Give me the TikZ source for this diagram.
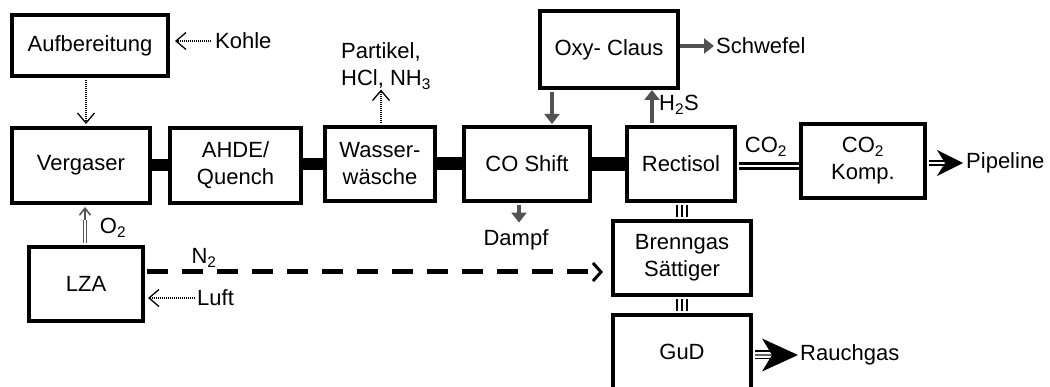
\documentclass[tikz,border=0pt]{standalone}
\usepackage{fontspec}
\setmainfont{Liberation Sans}
\usetikzlibrary{arrows.meta,calc}
\colorlet{arrgray}{black!68}
\begin{document}
\begin{tikzpicture}[x=1pt,y=-1pt,
  every node/.style={font=\fontsize{22}{27}\selectfont, inner sep=0pt},
  box/.style={draw, line width=4pt, align=center, minimum height=74pt, fill=white},
  bar/.style={line width=12pt},
  dotarr/.style={line width=1.1pt, dash pattern=on 1pt off 1pt,
    -{Straight Barb[length=10pt,width=17pt,line width=1.3pt]}},
  grayarr/.style={draw=arrgray, line width=4pt, -{Triangle[length=10pt,width=15pt]}},
  dbl/.style={line width=2.5pt, double, double distance=2.5pt},
  triple/.style={line width=2.2pt, preaction={draw, line width=12pt}, preaction={draw=white, line width=7.5pt}},
  thintriple/.style={draw=black!60, line width=1.6pt, preaction={draw=black, line width=9pt}, preaction={draw=white, line width=5.5pt}},
  bighead/.style={fill=black, line join=miter},
]
\useasboundingbox (0,0) rectangle (1050,387);
\clip (0,0) rectangle (1050,387);

% boxes
\node[box, minimum width=156pt, minimum height=61pt] (aufb) at (90,45.5) {Aufbereitung};
\node[box, minimum width=138pt, minimum height=75pt] (verg) at (81,165.5) {Vergaser};
\node[box, minimum width=131pt, minimum height=75pt] (ahde) at (235.5,165.5) {AHDE/\\Quench};
\node[box, minimum width=110pt] (wasser) at (380,164) {Wasser-\\wäsche};
\node[box, minimum width=126pt] (shift) at (527,164) {CO Shift};
\node[box, minimum width=138pt, minimum height=77pt] (oxy) at (609,49.5) {Oxy- Claus};
\node[box, minimum width=108pt] (rect) at (681,164) {Rectisol};
\node[box, minimum width=124pt] (komp) at (863,161) {CO\textsubscript{2}\\Komp.};
\node[box, minimum width=138pt] (brenn) at (682,258) {Brenngas\\Sättiger};
\node[box, minimum width=138pt] (gud) at (682,352) {GuD};
\node[box, minimum width=114pt] (lza) at (86,284) {LZA};

% labels
\node[anchor=west] (kohle) at (215,41) {Kohle};
\node[anchor=west, align=left] (part) at (341,66) {Partikel,\\HCl, NH\textsubscript{3}};
\node[anchor=west] (schw) at (716,46) {Schwefel};
\node (dampf) at (516,240) {Dampf};
\node[anchor=west] (h2s) at (659,105) {H\textsubscript{2}S};
\node (co2l) at (766,147) {CO\textsubscript{2}};
\node[anchor=west] (pipe) at (966,163) {Pipeline};
\node[anchor=west] (rauch) at (800,355) {Rauchgas};
\node (o2) at (113,228) {O\textsubscript{2}};
\node (n2) at (204,258) {N\textsubscript{2}};
\node[anchor=west] (luft) at (197,298) {Luft};

% thick main line
\draw[bar] (verg.east) -- (ahde.west);
\draw[bar] (ahde.east |- wasser.west) -- (wasser.west);
\draw[bar, line width=13pt] (wasser.east) -- (shift.west);
\draw[bar, line width=14pt] (shift.east) -- (rect.west);

% dotted inputs
\draw[dotarr, shorten <=4pt, shorten >=5pt] (kohle.west) -- (kohle.west -| aufb.east);
\coordinate (a1) at ($(aufb.south)+(-4,2)$);
\draw[dotarr, shorten >=2pt] (a1) -- (a1 |- verg.north);
\draw[dotarr, shorten <=2pt, shorten >=3pt] (luft.west) -- (luft.west -| lza.east);
\coordinate (w1) at ($(wasser.north)+(1,-2)$);
\draw[dotarr] (w1) -- (w1 |- part.south);

% gray arrows
\coordinate (o1) at ($(oxy.south)+(-57,2)$);
\draw[grayarr, shorten >=1pt] (o1) -- (o1 |- shift.north);
\coordinate (r1) at ($(rect.north)+(-29,-2)$);
\draw[grayarr, shorten >=0pt] (r1) -- (r1 |- oxy.south);
\coordinate (s1) at ($(shift.south)+(-8,2)$);
\draw[grayarr, shorten >=7pt] (s1) -- (s1 |- dampf.north);
\draw[grayarr, shorten >=2pt] (oxy.east |- schw.west) -- (schw.west);

% O2 from LZA
\coordinate (l1) at ($(lza.north)+(-1,-2)$);
\coordinate (l2) at ($(lza.north)+(-1,-25)$);
\draw[draw=arrgray, line width=1.2pt, double, double distance=2.2pt] (l1) -- (l2);
\draw[draw=arrgray, line width=1.5pt, -{Straight Barb[length=7pt,width=11pt]}, shorten >=2pt] (l2) -- (l2 |- verg.south);

% N2 dashed
\coordinate (n2s) at ($(lza.east)+(2,-12)$);
\draw[line width=5pt, dash pattern=on 21pt off 14pt,
  -{Straight Barb[length=8pt,width=18pt,line width=3pt]}, shorten >=8pt] (n2s) -- (n2s -| brenn.west);

% CO2 double
\coordinate (c1) at ($(rect.east)+(2,2)$);
\draw[dbl] (c1) -- (c1 -| komp.west);

% Pipeline
\coordinate (p1) at ($(komp.east |- pipe.west)+(2,0)$);
\coordinate (pt) at ($(pipe.west)+(-3,0)$);
\draw[line width=2pt, double, double distance=2pt] (p1) -- ($(pt)+(-18,0)$);
\fill[bighead] (pt) -- ++(-26,-13) -- ++(8,13) -- ++(-8,13) -- cycle;

% vertical triple lines
\draw[triple] ($(rect.south)+(1,2)$) -- ($(brenn.north)+(0,-2)$);
\draw[triple] ($(brenn.south)+(0,2)$) -- ($(gud.north)+(0,-2)$);

% Rauchgas
\coordinate (g1) at ($(gud.east |- rauch.west)+(2,0)$);
\coordinate (gt) at ($(rauch.west)+(-2,0)$);
\draw[thintriple] (g1) -- ($(gt)+(-25,0)$);
\fill[bighead] (gt) -- ++(-36,-16.5) -- ++(10,16.5) -- ++(-10,16.5) -- cycle;
\end{tikzpicture}
\end{document}
